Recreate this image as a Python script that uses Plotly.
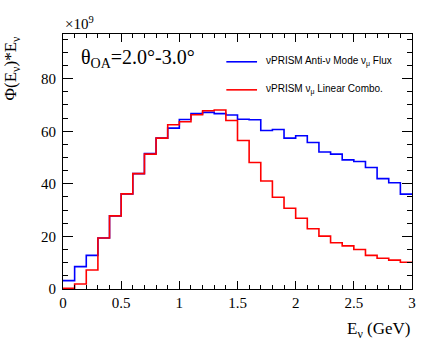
import plotly.graph_objects as go

SERIF = "Liberation Serif, Times New Roman, serif"
SANS = "Liberation Sans, Arial, Helvetica, sans-serif"
BLUE = "#0000FF"
RED = "#FF0000"

# bin edges in GeV (0.1 GeV bins, 0-3 GeV)
bin_edges = [round(0.1 * i, 1) for i in range(31)]

# flux x E, units of 1e9
anti_nu_flux = [3.2, 8.5, 12.8, 19.4, 27.8, 36.2, 43.9, 51.5, 57.4, 61.2,
                64.5, 66.7, 67.2, 66.7, 66.2, 64.6, 64.4, 60.3, 60.7, 57.4,
                58.3, 55.7, 52.1, 51.3, 49.1, 48.5, 46.2, 42.0, 40.4, 36.1]
linear_combo = [0.3, 1.9, 7.2, 19.4, 27.8, 36.2, 43.9, 51.3, 57.4, 62.5,
                63.6, 66.3, 67.8, 68.1, 64.1, 56.5, 48.1, 41.1, 34.9, 30.7,
                26.9, 22.9, 20.1, 17.6, 16.4, 15.0, 12.8, 11.7, 11.0, 10.2]

legend_labels = ["νPRISM Anti-ν Mode ν<sub>μ</sub> Flux",
                 "νPRISM ν<sub>μ</sub> Linear Combo."]


def step(vals):
    # repeat last value so the hv line closes the final bin
    return list(vals) + [vals[-1]]


fig = go.Figure()
fig.add_trace(go.Scatter(x=bin_edges, y=step(anti_nu_flux), mode="lines",
                         line=dict(color=BLUE, width=1.6, shape="hv"),
                         showlegend=False))
fig.add_trace(go.Scatter(x=bin_edges, y=step(linear_combo), mode="lines",
                         line=dict(color=RED, width=1.6, shape="hv"),
                         showlegend=False))

axis_common = dict(
    showline=True, linecolor="black", linewidth=1, mirror="ticks",
    ticks="inside", tickcolor="black", showgrid=False, zeroline=False,
    automargin=False,
    tickfont=dict(family=SERIF, size=15, color="black"),
)

fig.update_xaxes(range=[0, 3], dtick=0.5, ticklen=8,
                 minor=dict(dtick=0.1, ticklen=4, ticks="inside", tickcolor="black"),
                 **axis_common)
fig.update_yaxes(range=[0, 97], dtick=20, ticklen=10, ticklabelstandoff=3,
                 minor=dict(dtick=5, ticklen=5, ticks="inside", tickcolor="black"),
                 **axis_common)

annotations = [
    dict(text="×10<sup>9</sup>", x=0, y=1.0, xref="paper", yref="paper",
         xanchor="left", yanchor="bottom", showarrow=False,
         font=dict(family=SERIF, size=15, color="black")),
    dict(text="Φ(E<sub>ν</sub>)*E<sub>ν</sub>", textangle=-90,
         x=-0.145, y=1.0, xref="paper", yref="paper",
         xanchor="center", yanchor="top", showarrow=False,
         font=dict(family=SERIF, size=17, color="black")),
    dict(text="E<sub>ν</sub> (GeV)", x=1.0, y=-0.11, xref="paper", yref="paper",
         xanchor="right", yanchor="top", showarrow=False,
         font=dict(family=SERIF, size=17, color="black")),
    dict(text="θ<sub>OA</sub>=2.0°-3.0°", x=0.045, y=0.905, xref="paper", yref="paper",
         xanchor="left", yanchor="middle", showarrow=False,
         font=dict(family=SERIF, size=20, color="black")),
]
shapes = []
for i, (lab, col) in enumerate(zip(legend_labels, [BLUE, RED])):
    yy = 0.891 - i * 0.11
    shapes.append(dict(type="line", xref="paper", yref="paper",
                       x0=0.468, x1=0.556, y0=yy, y1=yy,
                       line=dict(color=col, width=1.6)))
    annotations.append(dict(text=lab, x=0.575, y=yy, xref="paper", yref="paper",
                            xanchor="left", yanchor="middle", showarrow=False,
                            font=dict(family=SANS, size=10, color="black")))

fig.update_layout(
    width=436, height=345,
    paper_bgcolor="white", plot_bgcolor="white",
    margin=dict(l=63, r=24, t=34, b=56),
    annotations=annotations, shapes=shapes,
    showlegend=False,
)

# drop the browser's default body margin so the figure sits at the page corner
fig.write_html("out.html", config={"displayModeBar": False},
               post_script="document.body.style.margin='0';")
